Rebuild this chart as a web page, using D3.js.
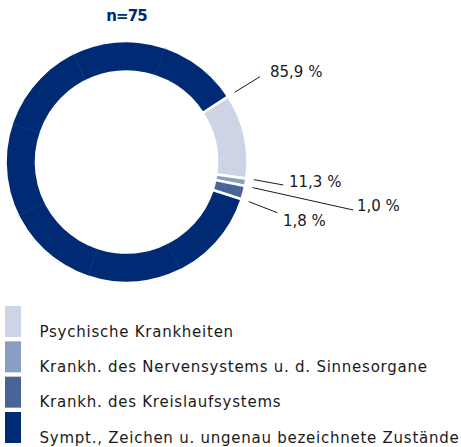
<!DOCTYPE html>
<html><head><meta charset="utf-8">
<script src="https://cdn.jsdelivr.net/npm/d3@7"></script>
<style>html,body{margin:0;padding:0;background:#fff;}svg{display:block;}</style>
</head><body>
<svg id="chart" width="461" height="447"></svg>
<script>
const categories = ["Psychische Krankheiten", "Krankh. des Nervensystems u. d. Sinnesorgane", "Krankh. des Kreislaufsystems", "Sympt., Zeichen u. ungenau bezeichnete Zustände"];
const values = [11.3, 1.0, 1.8, 85.9];
const valueLabels = ["11,3 %", "1,0 %", "1,8 %", "85,9 %"];
const colors = ["#CDD4E6", "#8A9DC2", "#4A6499", "#002A73"];
const title = "n=75";

const svg = d3.select("#chart");
const cx = 126.5, cy = 162, rOuter = 121, rInner = 90.5;
const deg = Math.PI / 180;
const start = 57.2 * deg;

const pie = d3.pie().sort(null).value(d => d).startAngle(start).endAngle(start + 2 * Math.PI);
const arcs = pie(values);
const arc = d3.arc().innerRadius(rInner).outerRadius(rOuter);

svg.append("text").attr("x", cx).attr("y", 21).attr("text-anchor", "middle")
  .attr("font-family", "DejaVu Sans").attr("font-weight", "bold").attr("font-size", 15)
  .attr("letter-spacing", -0.9)
  .attr("fill", "#002A73").text(title);

const g = svg.append("g").attr("transform", `translate(${cx},${cy})`);
g.selectAll("path.seg").data(arcs).enter().append("path").attr("class", "seg")
  .attr("d", arc).attr("fill", (d, i) => colors[i])
  .attr("stroke", "#fff").attr("stroke-width", 2.6).attr("stroke-linejoin", "miter");

// faint subdivision lines inside the large segment
const big = arcs[3];
const sub = [];
for (let a = big.startAngle + 45.6 * deg; a < big.endAngle - 10 * deg; a += 45 * deg) sub.push(a);
g.selectAll("line.sub").data(sub).enter().append("line").attr("class", "sub")
  .attr("x1", a => rInner * Math.sin(a)).attr("y1", a => -rInner * Math.cos(a))
  .attr("x2", a => rOuter * Math.sin(a)).attr("y2", a => -rOuter * Math.cos(a))
  .attr("stroke", "#3f5f9c").attr("stroke-width", 0.5).attr("opacity", 0.6);

// labels with leader lines (pointing at each segment's end angle)
const labelPos = [
  {lx: 283.3, ly: 185, tx: 289, ty: 187},
  {lx: 353.3, ly: 210, tx: 357, ty: 211},
  {lx: 277.3, ly: 212.7, tx: 283, ty: 226},
  {lx: 260, ly: 76.7, tx: 270, ty: 77}
];
const rLead = 128.5;
arcs.forEach((d, i) => {
  const a = d.endAngle;
  const p = labelPos[i];
  svg.append("line")
    .attr("x1", cx + rLead * Math.sin(a)).attr("y1", cy - rLead * Math.cos(a))
    .attr("x2", p.lx).attr("y2", p.ly)
    .attr("stroke", "#1a1a1a").attr("stroke-width", 1);
  svg.append("text").attr("x", p.tx).attr("y", p.ty)
    .attr("font-family", "DejaVu Sans").attr("font-size", 15).attr("fill", "#1a1a1a")
    .text(valueLabels[i]);
});

// legend
const leg = svg.append("g");
const legY = d3.scalePoint().domain(categories).range([306, 412]);
categories.forEach((c, i) => {
  const y = legY(c);
  leg.append("rect").attr("x", 5).attr("y", y).attr("width", 16).attr("height", 31).attr("fill", colors[i]);
  leg.append("text").attr("x", 39.5).attr("y", y + 30.5)
    .attr("font-family", "DejaVu Sans").attr("font-size", 15).attr("letter-spacing", 0.75)
    .attr("fill", "#1a1a1a").text(c);
});
</script>
</body></html>
